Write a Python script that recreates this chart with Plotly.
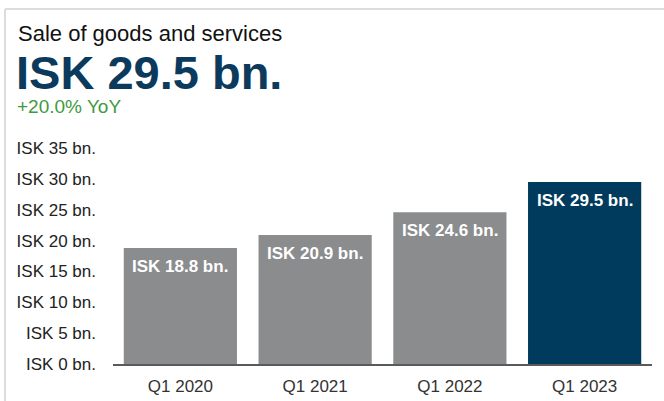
import plotly.graph_objects as go

# Quarterly sale of goods and services, ISK billions
quarters = ["Q1 2020", "Q1 2021", "Q1 2022", "Q1 2023"]
sales_bn = [18.8, 20.9, 24.6, 29.5]
bar_colors = ["#8a8c8e", "#8a8c8e", "#8a8c8e", "#003a5c"]
tick_vals = [0, 5, 10, 15, 20, 25, 30, 35]
tick_text = [f"ISK {v} bn." for v in tick_vals]

headline = "ISK 29.5 bn."
yoy_text = "+20.0% YoY"

W, H = 664, 401
M_L, M_R, M_T, M_B = 113, 12, 148, 37
PLOT_W = W - M_L - M_R
PLOT_H = H - M_T - M_B


def px_x(x):
    return (x - M_L) / PLOT_W


def px_y(y):
    return (H - M_B - y) / PLOT_H


FONT = "Liberation Sans, Arial, sans-serif"

fig = go.Figure(
    go.Bar(
        x=quarters,
        y=sales_bn,
        marker=dict(color=bar_colors, line=dict(width=0)),
        hoverinfo="skip",
    )
)

annotations = []
# Value labels inside the top of each bar
for q, v in zip(quarters, sales_bn):
    annotations.append(dict(
        x=q, y=v, xref="x", yref="y",
        text=f"<b>ISK {v} bn.</b>", showarrow=False,
        xanchor="center", yanchor="top", yshift=-7,
        font=dict(family=FONT, size=17, color="white"),
    ))

# Header block: title, headline figure, YoY change
annotations += [
    dict(x=px_x(16), y=px_y(33), xref="paper", yref="paper",
         text="Sale of goods and services", showarrow=False,
         xanchor="left", yanchor="middle",
         font=dict(family=FONT, size=22, color="#111111")),
    dict(x=px_x(15), y=px_y(72), xref="paper", yref="paper",
         text=f"<b>{headline}</b>", showarrow=False,
         xanchor="left", yanchor="middle", borderpad=0,
         font=dict(family=FONT, size=47, color="#0b3a5c")),
    dict(x=px_x(16), y=px_y(106), xref="paper", yref="paper",
         text=yoy_text, showarrow=False,
         xanchor="left", yanchor="middle", borderpad=0,
         font=dict(family=FONT, size=19, color="#3f9a3f")),
]

# Card outline along the top and left edges
shapes = [
    dict(type="line", xref="paper", yref="paper",
         x0=px_x(5), x1=px_x(W), y0=px_y(9), y1=px_y(9),
         line=dict(color="#dcdcdc", width=2)),
    dict(type="line", xref="paper", yref="paper",
         x0=px_x(5), x1=px_x(5), y0=px_y(9), y1=px_y(H),
         line=dict(color="#dcdcdc", width=2)),
]

fig.update_layout(
    width=W, height=H,
    margin=dict(l=M_L, r=M_R, t=M_T, b=M_B),
    paper_bgcolor="white", plot_bgcolor="white",
    bargap=0.16,
    showlegend=False,
    annotations=annotations,
    shapes=shapes,
    font=dict(family=FONT),
)
fig.update_xaxes(
    automargin=False,
    showline=True, linecolor="#5a5a5a", linewidth=2,
    showgrid=False, ticks="", ticklabelstandoff=6,
    tickfont=dict(family=FONT, size=17, color="#333333"),
    fixedrange=True,
)
fig.update_yaxes(
    automargin=False,
    range=[0, 35], tickvals=tick_vals, ticktext=tick_text,
    showgrid=False, zeroline=False, showline=False, ticks="",
    ticklabelstandoff=16,
    tickfont=dict(family=FONT, size=17, color="#222222"),
    fixedrange=True,
)

fig.write_html("out.html", config={"displayModeBar": False})
